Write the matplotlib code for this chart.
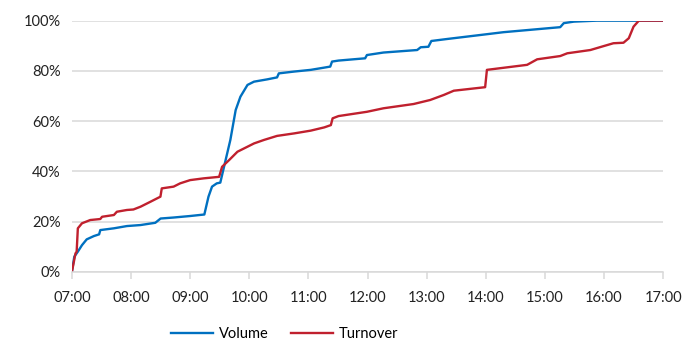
import matplotlib.pyplot as plt
from matplotlib.ticker import FuncFormatter

plt.rcParams['font.family'] = ['Lato', 'DejaVu Sans']

# hours after 07:00, cumulative share in %
vol_t = [0.0, 0.04, 0.1, 0.17, 0.25, 0.37, 0.46, 0.48, 0.71, 0.93, 1.16, 1.41, 1.5, 1.72,
         2.0, 2.24, 2.31, 2.37, 2.45, 2.51, 2.56, 2.68, 2.77, 2.85, 2.97, 3.08, 3.3,
         3.47, 3.5, 3.75, 4.04, 4.27, 4.37, 4.40, 4.51, 4.96, 4.99, 5.27, 5.84, 5.9,
         6.03, 6.08, 6.35, 7.02, 7.30, 8.26, 8.32, 8.49, 8.88, 10.0]
vol_p = [0.0, 6.0, 8.0, 10.6, 12.9, 14.2, 14.9, 16.6, 17.3, 18.2, 18.6, 19.5, 21.2, 21.6,
         22.2, 22.8, 29.9, 33.9, 35.2, 35.5, 40.5, 52.5, 64.4, 69.7, 74.4, 75.7, 76.6,
         77.4, 79.0, 79.7, 80.4, 81.3, 81.7, 83.7, 84.1, 85.0, 86.3, 87.3, 88.3, 89.4,
         89.6, 91.9, 92.7, 94.6, 95.4, 97.4, 99.0, 99.6, 100.0, 100.0]

turn_t = [0.0, 0.06, 0.08, 0.10, 0.17, 0.31, 0.48, 0.51, 0.71, 0.76, 0.93, 1.04, 1.16,
          1.33, 1.497, 1.52, 1.72, 1.83, 2.0, 2.23, 2.49, 2.54, 2.66, 2.80, 2.97, 3.08,
          3.25, 3.47, 3.76, 4.04, 4.27, 4.38, 4.41, 4.51, 4.99, 5.27, 5.78, 6.06, 6.29,
          6.46, 6.99, 7.02, 7.70, 7.87, 8.26, 8.38, 8.77, 9.0, 9.16, 9.33, 9.42, 9.50,
          9.59, 10.0]
turn_p = [0.0, 7.3, 8.0, 17.3, 19.3, 20.6, 21.0, 21.9, 22.6, 23.9, 24.6, 24.8, 25.9,
          27.9, 29.9, 33.2, 33.9, 35.2, 36.5, 37.2, 37.8, 41.8, 44.5, 47.8, 49.8, 51.1,
          52.5, 54.1, 55.1, 56.2, 57.5, 58.4, 61.1, 62.0, 63.7, 65.1, 66.8, 68.4, 70.4,
          72.1, 73.5, 80.4, 82.4, 84.6, 85.9, 87.0, 88.3, 89.9, 91.0, 91.2, 93.0, 97.6,
          100.0, 100.0]

hour_labels = ['07:00', '08:00', '09:00', '10:00', '11:00', '12:00', '13:00',
               '14:00', '15:00', '16:00', '17:00']

fig = plt.figure(figsize=(6.85, 3.44), dpi=100)
ax = fig.add_axes([0.105, 0.21, 0.863, 0.73])

ax.plot(vol_t, vol_p, color='#0070C0', lw=1.7, label='Volume')
ax.plot(turn_t, turn_p, color='#C0202E', lw=1.7, label='Turnover')

ax.set_xlim(0, 10)
ax.set_ylim(0, 100)
ax.set_yticks(range(0, 101, 20))
ax.yaxis.set_major_formatter(FuncFormatter(lambda v, p: f'{v:.0f}%'))
ax.set_xticks(range(11))
ax.set_xticklabels(hour_labels)

ax.grid(axis='y', color='#d9d9d9', lw=1.1)
ax.set_axisbelow(True)
for s in ['top', 'right', 'left']:
    ax.spines[s].set_visible(False)
ax.spines['bottom'].set_color('#d9d9d9')
ax.spines['bottom'].set_linewidth(1.1)
ax.tick_params(axis='x', colors='#d9d9d9', length=5, width=1.1, labelcolor='#222222',
               labelsize=10.5, pad=9)
ax.tick_params(axis='y', length=0, labelcolor='#222222', labelsize=10.5, pad=8)

fig.legend(loc='center left', bbox_to_anchor=(0.235, 0.03), ncol=2, frameon=False,
           fontsize=10.5, handlelength=2.9, columnspacing=1.5, handletextpad=0.4,
           borderpad=0.2)

fig.savefig('out.png', dpi=100)
